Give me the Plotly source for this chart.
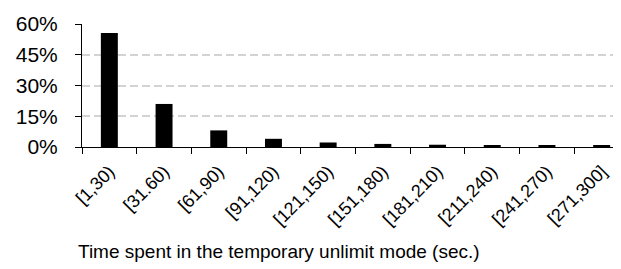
import plotly.graph_objects as go

categories = ["[1,30)", "[31.60)", "[61,90)", "[91,120)", "[121,150)", "[151,180)",
              "[181,210)", "[211,240)", "[241,270)", "[271,300]"]
values = [55.6, 21.0, 8.1, 4.0, 2.2, 1.5, 1.1, 0.8, 0.8, 0.8]
y_ticks = [0, 15, 30, 45, 60]
y_tick_labels = ["0%", "15%", "30%", "45%", "60%"]
x_title = "Time spent in the temporary unlimit mode (sec.)"

fig = go.Figure(go.Bar(x=categories, y=values, marker=dict(color="black", line=dict(width=0)), width=0.31))

font = "Liberation Sans, Arial, sans-serif"
fig.update_layout(
    width=621, height=269,
    margin=dict(l=74, r=0, t=16, b=130, autoexpand=False),
    paper_bgcolor="white", plot_bgcolor="white",
    showlegend=False,
    font=dict(family=font, color="black"),
)
fig.update_xaxes(
    type="category", showline=True, linecolor="black", linewidth=1,
    ticks="outside", tickson="boundaries", ticklen=6, tickcolor="black",
    tickangle=-45, tickfont=dict(size=18, family=font),
    ticklabelstandoff=6, ticklabelshift=0,
    automargin=False, showgrid=False,
)
fig.update_yaxes(
    range=[0, 60], tickvals=y_ticks, ticktext=y_tick_labels,
    showline=True, linecolor="black", linewidth=1,
    ticks="outside", ticklen=6, tickcolor="black",
    tickfont=dict(size=21, family=font), ticklabelstandoff=13,
    showgrid=True, gridcolor="#d3d3d3", griddash="8px,4px", gridwidth=2,
    zeroline=False, automargin=False,
)
fig.add_annotation(
    text=x_title, xref="paper", yref="paper", x=0.36, y=-0.85,
    xanchor="center", yanchor="middle", showarrow=False,
    font=dict(size=19, family=font, color="black"),
)
fig.write_html("out.html")
